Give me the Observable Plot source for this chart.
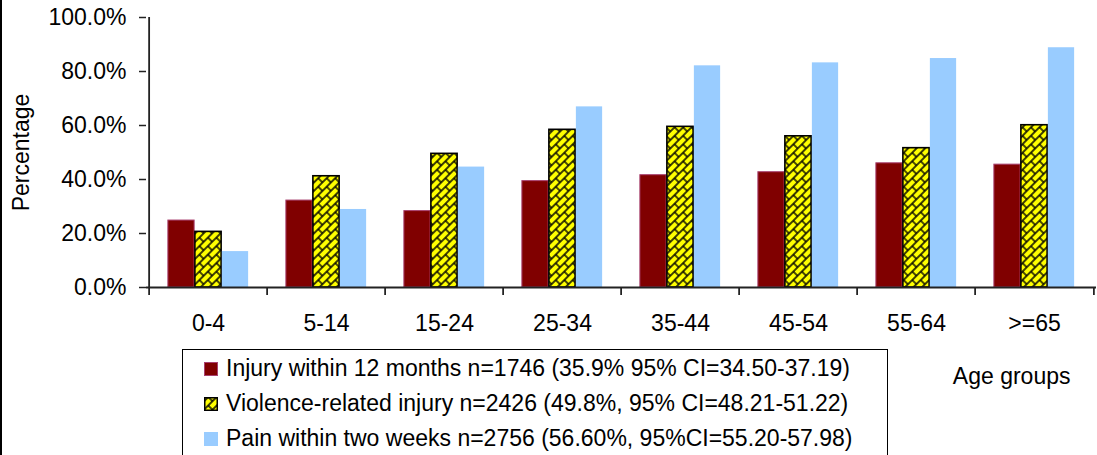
<!DOCTYPE html>
<html><head><meta charset="utf-8">
<script src="https://cdn.jsdelivr.net/npm/d3@7"></script>
<script src="https://cdn.jsdelivr.net/npm/@observablehq/plot@0.6"></script>
<style>
body{margin:0;background:#fff;font-family:"Liberation Sans",Arial,sans-serif;}
#wrap{position:relative;width:1097px;height:455px;overflow:hidden;background:#fff;}
#wrap svg{display:block;}
#leftline{position:absolute;left:0;top:0;width:2px;height:455px;background:#000;}
#legend{position:absolute;left:182px;top:349px;width:706px;height:130px;border:1.5px solid #000;background:#fff;box-sizing:border-box;padding-top:1px;}
.row{height:35px;display:flex;align-items:center;font-size:23px;color:#000;white-space:nowrap;}
.sw{width:14px;height:14px;margin-left:21px;margin-right:8px;flex:none;}
</style></head>
<body><div id="wrap"><div id="leftline"></div></div>
<script>
const ages = ["0-4", "5-14", "15-24", "25-34", "35-44", "45-54", "55-64", ">=65"];
const injury   = [24.8, 32.2, 28.3, 39.4, 41.6, 42.7, 46.0, 45.5];
const violence = [20.6, 41.2, 49.5, 58.4, 59.5, 56.0, 51.6, 60.1];
const pain     = [13.3, 28.9, 44.6, 66.9, 82.1, 83.2, 84.8, 88.8];
const yTicks = [0, 20, 40, 60, 80, 100];
const seriesLabels = [
  "Injury within 12 months n=1746 (35.9% 95% CI=34.50-37.19)",
  "Violence-related injury n=2426 (49.8%, 95% CI=48.21-51.22)",
  "Pain within two weeks n=2756 (56.60%, 95%CI=55.20-57.98)"
];
const xTitle = "Age groups";
const yTitle = "Percentage";

const W = 1097, H = 455, mL = 146, mR = 1, mT = 17, mB = 168;
const bw = (W - mL - mR) / ages.length;
const barW = 27;
const off = (bw - 3 * barW) / 2;
const ins = i => ({insetLeft: off + barW * i, insetRight: bw - off - barW * (i + 1)});

const chart = Plot.plot({
  width: W, height: H,
  marginLeft: mL, marginRight: mR, marginTop: mT, marginBottom: mB,
  style: {fontFamily: "'Liberation Sans', Arial, sans-serif", fontSize: "23px", color: "#000", background: "transparent"},
  x: {domain: ages, padding: 0},
  y: {domain: [0, 100]},
  marks: [
    Plot.barY(injury, {x: (d, i) => ages[i], y: d => d, fill: "#800000", stroke: "#a8406e", strokeWidth: 1, ...ins(0)}),
    Plot.barY(violence, {x: (d, i) => ages[i], y: d => d, fill: "url(#weave)", stroke: "#000", strokeWidth: 1.6, ...ins(1)}),
    Plot.barY(pain, {x: (d, i) => ages[i], y: d => d, fill: "#99CCFF", ...ins(2)}),
    Plot.ruleY([0], {stroke: "#222", strokeWidth: 1.8}),
    Plot.ruleX([ages[0]], {dx: -bw / 2, y1: 0, y2: 100, stroke: "#222", strokeWidth: 1.8}),
    Plot.axisY({ticks: yTicks, tickFormat: d => d.toFixed(1) + "%", tickSize: 7, tickPadding: 13, fontSize: 23,
      stroke: "#222", strokeWidth: 1.5,
      label: yTitle, labelAnchor: "center", labelOffset: 134, labelArrow: "none"}),
    Plot.axisX({tickSize: 0, tickPadding: 27, fontSize: 23, label: null}),
    Plot.axisX({ticks: ages, tickSize: 8, tickFormat: () => "", dx: -bw / 2, stroke: "#222", strokeWidth: 1.8, label: null}),
    Plot.axisX({ticks: [ages[ages.length - 1]], tickSize: 8, tickFormat: () => "", dx: bw / 2, stroke: "#222", strokeWidth: 1.8, label: null}),
    Plot.text([xTitle], {frameAnchor: "bottom-right", text: d => d, textAnchor: "end", lineAnchor: "middle", dx: -26, dy: 89, fontSize: 23, fill: "#000"})
  ]
});

const defs = d3.select(chart).insert("defs", ":first-child");
const pat = defs.append("pattern").attr("id", "weave").attr("patternUnits", "userSpaceOnUse")
  .attr("width", 12).attr("height", 12).attr("patternTransform", "rotate(-45)");
pat.append("rect").attr("width", 12).attr("height", 12).attr("fill", "#FFFF00");
pat.append("path").attr("d", "M0,3H12M0,9H12M3,3V9M9,9V12M9,0V3")
  .attr("stroke", "#000").attr("stroke-width", 1.4).attr("fill", "none");

const wrap = document.getElementById("wrap");
wrap.insertBefore(chart, wrap.firstChild);

const legend = document.createElement("div");
legend.id = "legend";
const swatches = [
  '<div class="sw" style="background:#800000;border:1px solid #a8406e;box-sizing:border-box"></div>',
  '<svg class="sw" width="14" height="14"><rect x="0.75" y="0.75" width="12.5" height="12.5" fill="url(#weave)" stroke="#000" stroke-width="1.5"/></svg>',
  '<div class="sw" style="background:#99CCFF"></div>'
];
seriesLabels.forEach((t, i) => {
  const r = document.createElement("div");
  r.className = "row";
  r.innerHTML = swatches[i] + "<span></span>";
  r.querySelector("span").textContent = t;
  legend.appendChild(r);
});
wrap.appendChild(legend);
</script>
</body></html>
